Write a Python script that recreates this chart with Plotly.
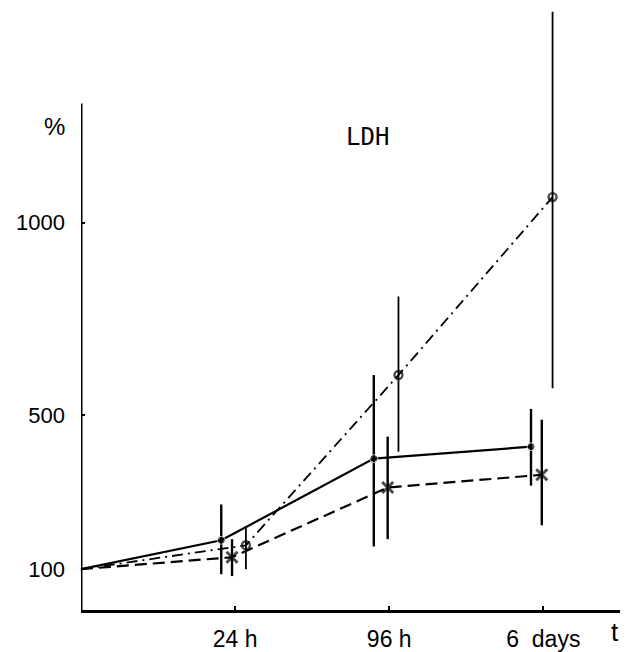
import plotly.graph_objects as go

# Time points (category index) and tick labels
time_index = [0, 1, 2, 3]
x_tick_vals = [1, 2, 3]
x_tick_text = ["24 h", "96 h", "6  days"]
y_tick_vals = [100, 500, 1000]
y_tick_text = ["100", "500", "1000"]

# Series A (solid line, filled dots)
a_offset = [0, -0.09, -0.10, -0.08]
a_values = [100, 175, 387, 418]
a_err_plus = [0, 93, 217, 98]
a_err_minus = [0, 88, 228, 101]

# Series B (dashed line, crosses)
b_offset = [0, -0.02, -0.01, -0.01]
b_values = [100, 131, 312, 345]
b_err_plus = [0, 47, 132, 143]
b_err_minus = [0, 49, 134, 131]

# Series C (dash-dot line, open circles)
c_offset = [0, 0.07, 0.06, 0.06]
c_values = [100, 162, 604, 1066]
c_err_plus = [0, 47, 204, 481]
c_err_minus = [0, 62, 199, 496]

FONT = "Liberation Sans"

def xs(offs):
    return [t + o for t, o in zip(time_index, offs)]

fig = go.Figure()

fig.add_trace(go.Scatter(
    x=xs(c_offset), y=c_values, mode="lines+markers",
    line=dict(color="black", width=1.8, dash="11px,5px,2px,5px"),
    marker=dict(symbol=["circle", "circle-open", "circle-open", "circle-open"],
                size=[0.1, 8, 8, 8], color="black", line=dict(width=2.4, color="black")),
    error_y=dict(type="data", symmetric=False, array=c_err_plus, arrayminus=c_err_minus,
                 color="black", thickness=1.8, width=0),
    showlegend=False, cliponaxis=False,
))

fig.add_trace(go.Scatter(
    x=xs(b_offset), y=b_values, mode="lines+markers",
    line=dict(color="black", width=2.2, dash="12px,6px"),
    marker=dict(symbol="x-thin", size=[0.1, 11, 11, 11], color="black",
                line=dict(width=3, color="black")),
    error_y=dict(type="data", symmetric=False, array=b_err_plus, arrayminus=b_err_minus,
                 color="black", thickness=2.4, width=0),
    showlegend=False, cliponaxis=False,
))

fig.add_trace(go.Scatter(
    x=xs(a_offset), y=a_values, mode="lines+markers",
    line=dict(color="black", width=2.2),
    marker=dict(symbol="circle", size=[0.1, 8, 8, 8], color="black"),
    error_y=dict(type="data", symmetric=False, array=a_err_plus, arrayminus=a_err_minus,
                 color="black", thickness=2.4, width=0),
    showlegend=False, cliponaxis=False,
))

# y-axis line (shorter than plot area)
fig.add_shape(type="line", xref="x", yref="y", x0=0, x1=0, y0=-6, y1=1309,
              line=dict(color="black", width=3))

fig.add_annotation(text="%", xref="paper", yref="paper", x=-0.048, y=0.803,
                   xanchor="center", yanchor="middle", showarrow=False,
                   font=dict(family=FONT, size=24, color="black"))
fig.add_annotation(text="LDH", x=1.86, y=1221, xanchor="center", yanchor="middle",
                   showarrow=False, font=dict(family="DejaVu Sans Mono", size=24, color="black"))
fig.add_annotation(text="t", xref="paper", yref="paper", x=0.982, y=-0.036,
                   xanchor="center", yanchor="middle", showarrow=False,
                   font=dict(family=FONT, size=26, color="black"))

fig.update_layout(
    width=620, height=644,
    margin=dict(l=73, r=3, t=0, b=39, pad=0),
    paper_bgcolor="white", plot_bgcolor="white",
    font=dict(family=FONT, size=23, color="black"),
    xaxis=dict(range=[0, 3.53], tickvals=x_tick_vals, ticktext=x_tick_text,
               showgrid=False, zeroline=False, showline=True, linecolor="black",
               linewidth=3, ticks="inside", ticklen=4, tickwidth=2, tickcolor="black",
               ticklabelstandoff=6, tickfont=dict(family=FONT, size=23)),
    yaxis=dict(range=[-6, 1557], tickvals=y_tick_vals, ticktext=y_tick_text,
               showgrid=False, zeroline=False, showline=False,
               ticks="inside", ticklen=4, tickwidth=2, tickcolor="black",
               ticklabelstandoff=15, tickfont=dict(family=FONT, size=22)),
)

fig.write_html("out.html")
